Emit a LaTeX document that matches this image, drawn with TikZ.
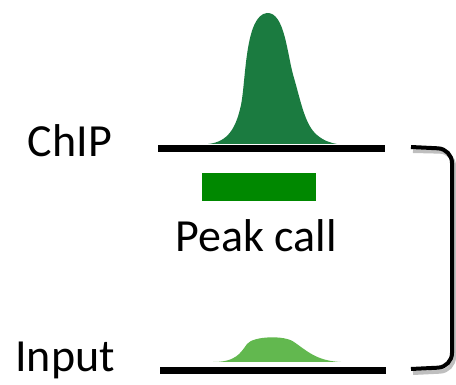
\documentclass[tikz,border=0pt]{standalone}
\usepackage{fontspec}
\setmainfont{Carlito}
\usepackage{tikz}
\usetikzlibrary{positioning, calc}

\definecolor{chipgreen}{RGB}{27,123,64}
\definecolor{inputgreen}{RGB}{98,184,79}
\definecolor{callgreen}{RGB}{0,136,0}

\begin{document}
\begin{tikzpicture}[x=1pt, y=-1pt]
        \tikzset{
            label/.style={font=\fontsize{46}{50}\selectfont, inner sep=0pt},
            track/.style={line width=7pt},
            bracket/.style={line width=4pt, rounded corners=14pt},
            shadow/.style={bracket, draw=black!25}
        }
        \useasboundingbox (0,0) rectangle (456,385);

        % --- ChIP track ---
        \fill[chipgreen] (208,144) .. controls (228,142) and (236,128) .. (241,105)
            .. controls (246,80) and (245,15) .. (267,13)
            .. controls (285,12) and (287,55) .. (294,78)
            .. controls (301,102) and (305,125) .. (317,135)
            .. controls (324,141) and (331,143) .. (337,144) -- cycle;
        \coordinate (chipL) at (158,149);
        \coordinate (chipR) at (385,149);
        \draw[track] (chipL) -- (chipR);
        \node[label, anchor=base east] (chip) at (112,157) {ChIP};

        % --- Peak call ---
        \node[fill=callgreen, minimum width=114pt, minimum height=28pt, inner sep=0pt] (call) at (259,187) {};
        \node[label, anchor=base] (peak) at (256,252) {Peak call};

        % --- Input track ---
        \fill[inputgreen] (213,362) .. controls (235,362) and (240,354) .. (247,344)
            .. controls (253,336) and (285,335) .. (294,342)
            .. controls (306,350) and (316,361) .. (341,362) -- cycle;
        \coordinate (inL) at (160,371);
        \coordinate (inR) at (386,371);
        \draw[track] (inL) -- (inR);
        \node[label, anchor=base east] (input) at (115,372) {Input};

        % --- Bracket ---
        \coordinate (bt) at (411,147);
        \coordinate (bb) at (411,369);
        \draw[shadow] ($(bt)+(2,4)$) -- (454,152) -- (454,371) -- ($(bb)+(2,4)$);
        \draw[bracket] (bt) -- (452,149) -- (452,367) -- (bb);

    \end{tikzpicture}
\end{document}
